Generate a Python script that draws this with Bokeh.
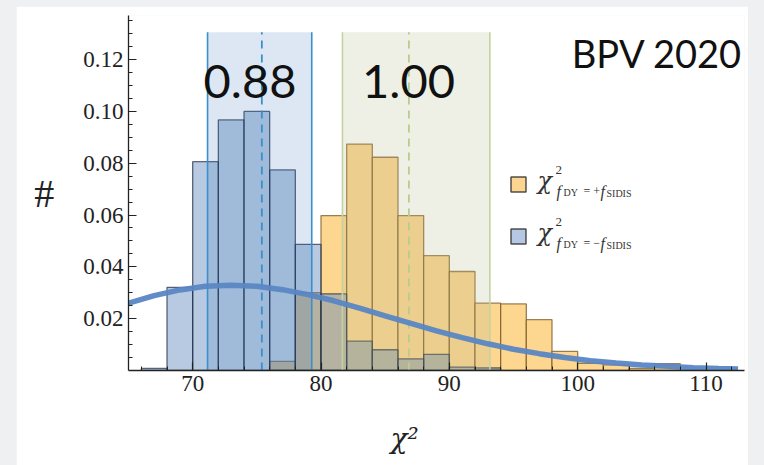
from bokeh.plotting import figure
from bokeh.layouts import column
from bokeh.models import Label, Title, FixedTicker, SingleIntervalTicker, PrintfTickFormatter
from bokeh.embed import file_html
from bokeh.resources import INLINE

# ---- data -------------------------------------------------------------
bin_width = 2
bin_left = [66, 68, 70, 72, 74, 76, 78, 80, 82, 84, 86,
            88, 90, 92, 94, 96, 98, 100, 102, 104, 106, 108]
# normalised histogram of chi^2 with f_DY = -f_SIDIS
minus_density = [0.0008, 0.0321, 0.0806, 0.0967, 0.1000, 0.0774, 0.0487, 0.0296,
                 0.0113, 0.0080, 0.0045, 0.0062, 0.0013, 0.0010, 0, 0, 0, 0, 0, 0, 0, 0]
# normalised histogram of chi^2 with f_DY = +f_SIDIS
plus_density = [0, 0, 0, 0, 0, 0.0035, 0.0300, 0.0598, 0.0874, 0.0823, 0.0598,
                0.0443, 0.0382, 0.0260, 0.0257, 0.0196, 0.0074, 0.0028, 0.0022,
                0.0008, 0.0026, 0]

# reference chi^2 density curve
curve_x = [65, 67, 69, 71, 73, 75, 77, 79, 81, 83, 85, 87, 89, 91, 93,
           95, 97, 99, 101, 103, 105, 107, 109, 111, 112.5]
curve_y = [0.0260, 0.0289, 0.0311, 0.0325, 0.0329, 0.0325, 0.0312, 0.0293,
           0.0269, 0.0241, 0.0211, 0.0182, 0.0153, 0.0127, 0.0103, 0.0082,
           0.0065, 0.0050, 0.0038, 0.0029, 0.0021, 0.0016, 0.0011, 0.0008,
           0.0006]

# 68% bands: (low, centre, high) and the ratio printed above each
minus_band = (71.16, 75.39, 79.28)
plus_band = (81.67, 86.85, 93.16)
band_top = 0.1305
minus_ratio = "0.88"
plus_ratio = "1.00"

x_ticks = [70, 80, 90, 100, 110]
y_ticks = [0.02, 0.04, 0.06, 0.08, 0.10, 0.12]
y_minor = [i * 0.005 for i in range(1, 28)]

X_START, X_END = 65, 113
Y_START, Y_END = 0, 0.137

# ---- figure -----------------------------------------------------------
W, H = 732, 459
BL, BR, BT, BB = 112, 4, 9, 95
p = figure(width=W, height=H, x_range=(X_START, X_END), y_range=(Y_START, Y_END),
           output_backend="svg", toolbar_location=None,
           min_border_left=BL, min_border_right=BR,
           min_border_top=BT, min_border_bottom=BB,
           background_fill_color="white", border_fill_color="white",
           outline_line_color=None)
p.margin = (6, 16, 0, 16)
p.grid.visible = False

# canvas position helpers for the text annotations (page pixels -> data)
FX0 = 16 + BL
FY0 = 6 + H - BB
SX = (W - BL - BR) / (X_END - X_START)
SY = (H - BT - BB) / (Y_END - Y_START)


def dx(px):
    return X_START + (px - FX0) / SX


def dy(py):
    return Y_START + (FY0 - py) / SY


# ---- histograms ---------------------------------------------------------
def bars(density):
    left = [b for b, d in zip(bin_left, density) if d > 0]
    top = [d for d in density if d > 0]
    right = [b + bin_width for b in left]
    return left, right, top


l, r, t = bars(plus_density)
p.quad(left=l, right=r, bottom=0, top=t, fill_color="#fdd68f", fill_alpha=1.0,
       line_color="#7a5a25", line_alpha=0.75, line_width=1.3)

l, r, t = bars(minus_density)
p.quad(left=l, right=r, bottom=0, top=t, fill_color="#5480bb", fill_alpha=0.42,
       line_color="#1f2c44", line_alpha=0.7, line_width=1.3)

# ---- bands ------------------------------------------------------------
for band, fill, fill_alpha, edge, dash_col in [
        (minus_band, "#2a6cb4", 0.16, "#3b8fcb", "#3b8fcb"),
        (plus_band, "#b5bb8f", 0.23, "#c3d3a0", "#b9cb8e")]:
    lo, mid, hi = band
    p.quad(left=lo, right=hi, bottom=0, top=band_top, fill_color=fill,
           fill_alpha=fill_alpha, line_color=None)
    p.segment(x0=[lo, hi], y0=[0, 0], x1=[lo, hi], y1=[band_top, band_top],
              line_color=edge, line_width=1.6)
    p.segment(x0=[mid], y0=[0], x1=[mid], y1=[band_top], line_color=dash_col,
              line_width=1.8, line_dash="8 6")

# ---- chi^2 curve ------------------------------------------------------
p.line(curve_x, curve_y, line_color="#5a86c4", line_width=5.5, line_alpha=0.95)

# ---- axes -------------------------------------------------------------
serif = "Liberation Serif"
greek = "DejaVu Serif"
for ax in (p.xaxis[0], p.yaxis[0]):
    ax.axis_line_color = "#222222"
    ax.axis_line_width = 1.3
    ax.major_tick_line_color = "#222222"
    ax.minor_tick_line_color = "#222222"
    ax.major_tick_line_width = 1.2
    ax.minor_tick_line_width = 1.0
    ax.major_tick_in = 8
    ax.major_tick_out = 0
    ax.minor_tick_in = 4
    ax.minor_tick_out = 0
    ax.major_label_text_font = serif
    ax.major_label_text_font_size = "23px"
    ax.major_label_text_color = "#222222"

p.xaxis.ticker = SingleIntervalTicker(interval=10, num_minor_ticks=5)
p.xaxis.major_label_standoff = 5
p.yaxis.ticker = FixedTicker(ticks=y_ticks, minor_ticks=y_minor)
p.yaxis.formatter = PrintfTickFormatter(format="%.2f")
p.yaxis.major_label_standoff = 5

# y title "#", written horizontally
yax = p.yaxis[0]
yax.axis_label = "#"
yax.axis_label_text_font = serif
yax.axis_label_text_font_style = "normal"
yax.axis_label_text_font_size = "40px"
yax.axis_label_text_color = "#222222"
yax.axis_label_standoff = 26
try:
    yax.axis_label_orientation = "horizontal"
except AttributeError:
    pass

# x title chi^2, pushed down by an empty spacer title
p.add_layout(Title(text=" ", text_font_size="8px"), "below")
x_title = Title(text="χ²", align="left", offset=262, text_font=greek,
                text_font_style="italic", text_font_size="28px",
                text_color="#222222")
p.add_layout(x_title, "below")

# band ratios and tag
for txt, xc in [(minus_ratio, dx(249.5)), (plus_ratio, dx(408))]:
    p.add_layout(Label(x=xc, y=dy(81), text=txt, text_font="Lato",
                       text_font_size="47px", text_align="center",
                       text_baseline="alphabetic", text_color="#111111"))
p.add_layout(Label(x=dx(742), y=dy(52.5), text="BPV 2020", text_font="Lato",
                   text_font_size="38px", text_align="right",
                   text_baseline="alphabetic", text_color="#111111"))

# ---- legend -----------------------------------------------------------
entries = [("#fcd590", "+", 184), ("#b5c7e2", "−", 236)]
for colour, sign, yc in entries:
    p.rect(x=[dx(518)], y=[dy(yc)], width=15, height=15, width_units="screen",
           height_units="screen", fill_color=colour, line_color="#333333",
           line_width=1.5, line_alpha=0.85)
    parts = [
        ("χ", 537, yc - 4, "24px", "italic", greek),
        ("2", 555, yc - 15, "13px", "normal", serif),
        ("f", 556, yc + 7, "16px", "italic", serif),
        ("DY", 563, yc + 8, "10px", "normal", serif),
        ("= " + sign, 583, yc + 6, "12px", "normal", serif),
        ("f", 600, yc + 7, "16px", "italic", serif),
        ("SIDIS", 606, yc + 9, "10px", "normal", serif),
    ]
    for txt, px, py, size, style, font in parts:
        p.add_layout(Label(x=dx(px), y=dy(py), text=txt, text_font=font,
                           text_font_style=style, text_font_size=size,
                           text_align="left", text_baseline="alphabetic",
                           text_color="#333333"))

root = column(p, styles={"background-color": "#eef0f2"})
open("out.html", "w").write(file_html(root, INLINE))
